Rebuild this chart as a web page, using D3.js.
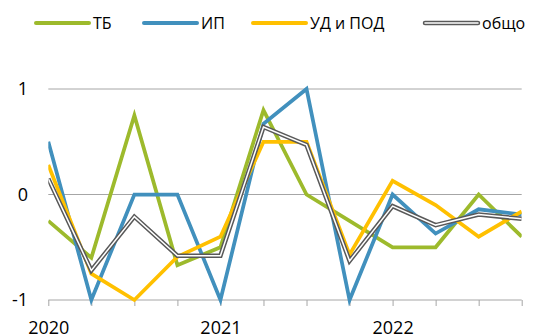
<!DOCTYPE html>
<html>
<head>
<meta charset="utf-8">
<script src="https://cdn.jsdelivr.net/npm/d3@7"></script>
<style>
  body { margin: 0; background: #fff; }
  svg { display: block; font-family: "Open Sans", sans-serif; }
</style>
</head>
<body>
<svg id="chart" width="534" height="336"></svg>
<script>
// Data (quarters, 2020 Q1 .. 2022 Q4)
const quarters = ["2020", "", "", "", "2021", "", "", "", "2022", "", "", ""];
const seriesNames = ["ТБ", "ИП", "УД и ПОД", "общо"];
const tbValues = [-0.25, -0.6, 0.75, -0.67, -0.5, 0.8, 0, -0.25, -0.5, -0.5, 0, -0.4];
const ipValues = [0.5, -1, 0, 0, -1, 0.67, 1, -1, 0, -0.37, -0.14, -0.19];
const udValues = [0.28, -0.75, -1, -0.59, -0.4, 0.5, 0.5, -0.57, 0.13, -0.1, -0.4, -0.16];
const totalValues = [0.15, -0.72, -0.21, -0.58, -0.58, 0.64, 0.47, -0.63, -0.11, -0.29, -0.19, -0.23];
const yTicks = [-1, 0, 1];

const colors = ["#9dba2c", "#4190bd", "#ffc000", "#595959"];

const svg = d3.select("#chart");

// Plot area
const x = d3.scalePoint()
  .domain(d3.range(quarters.length))
  .range([48.3, 521.7]);
const y = d3.scaleLinear()
  .domain([-1, 1])
  .range([300, 89]);

// Gridlines
svg.append("g")
  .selectAll("line")
  .data(yTicks)
  .join("line")
  .attr("x1", 48.3)
  .attr("x2", 521.7)
  .attr("y1", d => y(d))
  .attr("y2", d => y(d))
  .attr("stroke", "#a6a6a6")
  .attr("stroke-width", 1);

// Y labels
svg.append("g")
  .selectAll("text")
  .data(yTicks)
  .join("text")
  .attr("x", 28)
  .attr("y", d => y(d))
  .attr("dy", "0.35em")
  .attr("text-anchor", "end")
  .attr("font-size", 18)
  .attr("fill", "#000")
  .text(d => d);

// X axis ticks
const xAxis = d3.axisBottom(x)
  .tickSize(6)
  .tickFormat(i => quarters[i]);
const gx = svg.append("g")
  .attr("transform", `translate(0,${y(-1)})`)
  .call(xAxis);
gx.select(".domain").remove();
gx.selectAll(".tick line").attr("stroke", "#a6a6a6");
gx.selectAll(".tick text")
  .attr("font-size", 18)
  .attr("font-family", "Open Sans, sans-serif")
  .attr("fill", "#000")
  .attr("y", 34)
  .attr("dy", null);

// Lines
const line = d3.line()
  .x((d, i) => x(i))
  .y(d => y(d));

svg.append("clipPath").attr("id", "plot-clip")
  .append("rect").attr("x", 48.3).attr("y", 0).attr("width", 521.7 - 48.3).attr("height", 336);

const plot = svg.append("g").attr("clip-path", "url(#plot-clip)");

[tbValues, ipValues, udValues].forEach((vals, k) => {
  plot.append("path")
    .datum(vals)
    .attr("d", line)
    .attr("fill", "none")
    .attr("stroke", colors[k])
    .attr("stroke-width", 3.75)
    .attr("stroke-linejoin", "miter");
});

// Double line for the total
plot.append("path")
  .datum(totalValues)
  .attr("d", line)
  .attr("fill", "none")
  .attr("stroke", colors[3])
  .attr("stroke-width", 4.5);
plot.append("path")
  .datum(totalValues)
  .attr("d", line)
  .attr("fill", "none")
  .attr("stroke", "#fff")
  .attr("stroke-width", 1.5);

// Legend
const legendX = [36, 144, 253, 425];
const legend = svg.append("g");
seriesNames.forEach((name, k) => {
  const g = legend.append("g").attr("transform", `translate(${legendX[k]},23)`);
  if (k === 3) {
    g.append("line").attr("x1", 0).attr("x2", 53)
      .attr("stroke", colors[3]).attr("stroke-width", 4.5).attr("stroke-linecap", "round");
    g.append("line").attr("x1", 0).attr("x2", 53)
      .attr("stroke", "#fff").attr("stroke-width", 1.5).attr("stroke-linecap", "round");
  } else {
    g.append("line").attr("x1", 0).attr("x2", 53)
      .attr("stroke", colors[k]).attr("stroke-width", 4).attr("stroke-linecap", "round");
  }
  g.append("text")
    .attr("x", 57)
    .attr("dy", "0.36em")
    .attr("font-size", 16)
    .attr("fill", "#000")
    .text(name);
});
</script>
</body>
</html>
